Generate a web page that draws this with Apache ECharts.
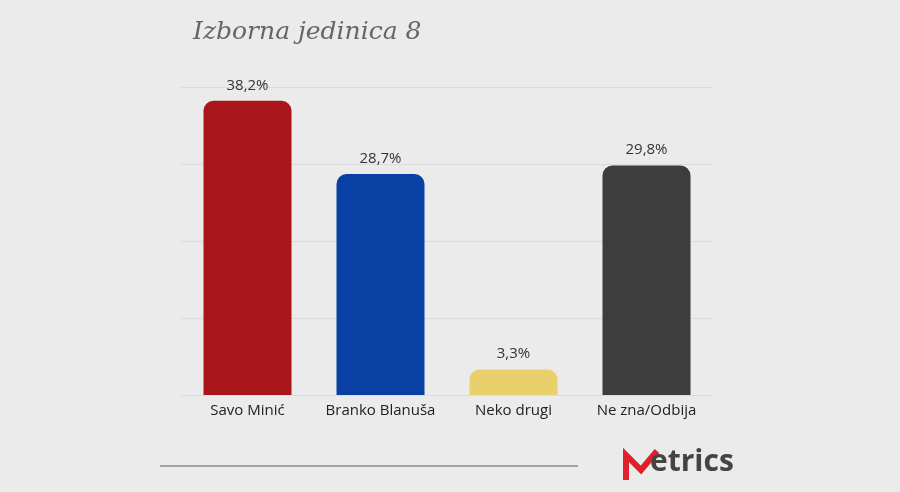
<!DOCTYPE html><html><head><meta charset="utf-8">
<script src="https://cdn.jsdelivr.net/npm/echarts@6/dist/echarts.min.js"></script>
<style>html,body{margin:0;background:#ebebeb}#c{width:900px;height:492px}</style></head><body><div id="c"></div>
<script>
const categories=['Savo Minić','Branko Blanuša','Neko drugi','Ne zna/Odbija'];
const values=[38.2,28.7,3.3,29.8];
const colors=['#a8151a','#0a40a3','#e9d06c','#3d3d3d'];
const chart=echarts.init(document.getElementById('c'));
chart.setOption({
 backgroundColor:'#ebebeb',
 grid:{left:181,right:187,top:87,bottom:97},
 xAxis:{type:'category',data:categories,axisLine:{show:false},axisTick:{show:false},
  axisLabel:{interval:0,color:'#222',fontSize:15,fontFamily:'Open Sans',margin:8}},
 yAxis:{type:'value',min:0,max:40,interval:10,axisLabel:{show:false},
  splitLine:{lineStyle:{color:'#dcdcdc'}}},
 series:[{type:'bar',barWidth:88,
  data:values.map((v,i)=>({value:v,itemStyle:{color:colors[i],borderRadius:[10,10,0,0]}})),
  label:{show:true,position:'top',distance:8,color:'#333',fontSize:15,fontFamily:'Open Sans',
   formatter:p=>p.value.toFixed(1).replace('.',',')+'%'}}],
 graphic:[
  {type:'text',left:193,top:20,style:{text:'Izborna jedinica 8',fontSize:25,fontStyle:'italic',fontFamily:'DejaVu Serif',fill:'#666'}},
  {type:'line',shape:{x1:160,y1:466,x2:578,y2:466},style:{stroke:'#888',lineWidth:1.5}},
  {type:'polyline',shape:{points:[[626,480],[626,455],[641,470],[657,451]]},style:{stroke:'#e0202a',lineWidth:6,fill:null}},
  {type:'text',left:650,top:447,style:{text:'etrics',fontSize:30,fontWeight:'bold',fontFamily:'Open Sans',fill:'#444'}}
 ]
});
</script></body></html>
